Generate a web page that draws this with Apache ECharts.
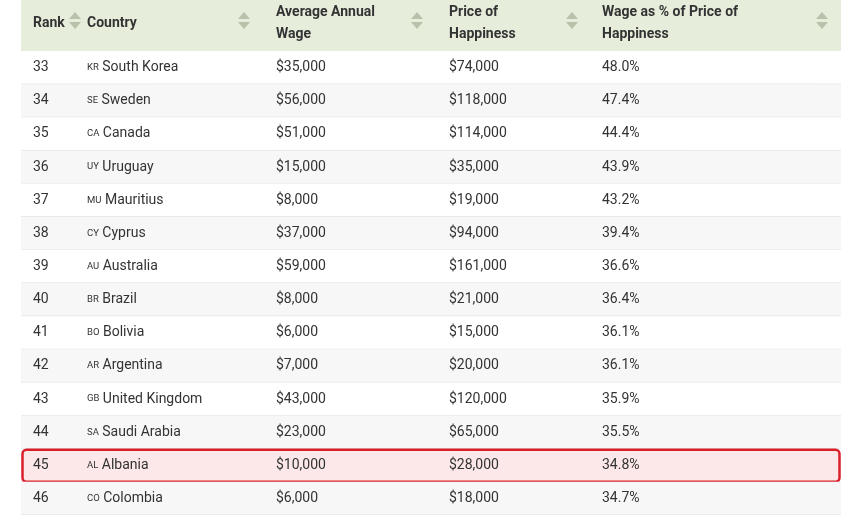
<!DOCTYPE html>
<html>
<head>
<meta charset="utf-8">
<script src="https://cdn.jsdelivr.net/npm/echarts@6/dist/echarts.min.js"></script>
<style>html,body{margin:0;padding:0;background:#fff}#main{width:841px;height:515px}</style>
</head>
<body>
<div id="main"></div>
<script>
var ranks=[33,34,35,36,37,38,39,40,41,42,43,44,45,46];
var codes=['KR','SE','CA','UY','MU','CY','AU','BR','BO','AR','GB','SA','AL','CO'];
var countries=['South Korea','Sweden','Canada','Uruguay','Mauritius','Cyprus','Australia','Brazil','Bolivia','Argentina','United Kingdom','Saudi Arabia','Albania','Colombia'];
var wages=[35000,56000,51000,15000,8000,37000,59000,8000,6000,7000,43000,23000,10000,6000];
var prices=[74000,118000,114000,35000,19000,94000,161000,21000,15000,20000,120000,65000,28000,18000];
var pcts=[48.0,47.4,44.4,43.9,43.2,39.4,36.6,36.4,36.1,36.1,35.9,35.5,34.8,34.7];
var highlight='Albania';
var headers=['Rank','Country','Average Annual\nWage','Price of\nHappiness','Wage as % of Price of\nHappiness'];
var colX=[12,66,255,428,581];
var arrowX=[54,223,396,551,801];

function money(v){return '$'+v.toLocaleString('en-US');}

var myChart=echarts.init(document.getElementById('main'));
var font='Roboto, sans-serif';
var graphics=[{type:'rect',shape:{x:21,y:0,width:820,height:51},style:{fill:'#e6eedb'}}];
headers.forEach(function(h,i){
	graphics.push({type:'text',x:21+colX[i],y:23,style:{text:h,font:'bold 14px '+font,fill:'#333',verticalAlign:'middle',lineHeight:22}});
});
arrowX.forEach(function(x){
	x+=21;
	graphics.push({type:'polygon',shape:{points:[[x-6,19],[x+6,19],[x,12]]},style:{fill:'#b8c2ab'}});
	graphics.push({type:'polygon',shape:{points:[[x-6,22],[x+6,22],[x,29]]},style:{fill:'#b8c2ab'}});
});

option={
	animation:false,
	grid:{left:21,right:0,top:51,height:467},
	xAxis:{type:'value',min:0,max:820,show:false},
	yAxis:{type:'category',inverse:true,show:false,data:ranks},
	graphic:graphics,
	series:[{
		type:'custom',
		clip:false,
		encode:{x:-1,y:0},
		data:ranks.map(function(r,i){return [i];}),
		renderItem:function(params,api){
			var i=api.value(0);
			var p=api.coord([0,i]);
			var h=api.size([0,1])[1];
			var x0=p[0], w=api.coord([820,i])[0]-x0, y0=p[1]-h/2;
			var hl=countries[i]==highlight;
			var children=[{type:'rect',shape:{x:x0,y:y0,width:w,height:h},style:{fill:i%2?'#f7f7f7':'#fff'}},
				{type:'line',shape:{x1:x0,y1:y0+h,x2:x0+w,y2:y0+h},style:{stroke:'#dedede',lineWidth:1}}];
			if(hl){
				children.push({type:'rect',shape:{x:x0+1.5,y:y0+1,width:w-3,height:h-1,r:4},style:{fill:'#fce8e8',stroke:'#d9202a',lineWidth:2.5}});
			}
			var texts=[String(ranks[i]),'{c|'+codes[i]+'} '+countries[i],money(wages[i]),money(prices[i]),pcts[i].toFixed(1)+'%'];
			texts.forEach(function(t,k){
				children.push({type:'text',x:x0+colX[k],y:p[1],style:{text:t,font:'14px '+font,fill:'#333',verticalAlign:'middle',
					rich:{c:{fontSize:9.5,fontFamily:font,fill:'#333',verticalAlign:'middle'}}}});
			});
			return {type:'group',children:children};
		}
	}]
};
myChart.setOption(option);
</script>
</body>
</html>
